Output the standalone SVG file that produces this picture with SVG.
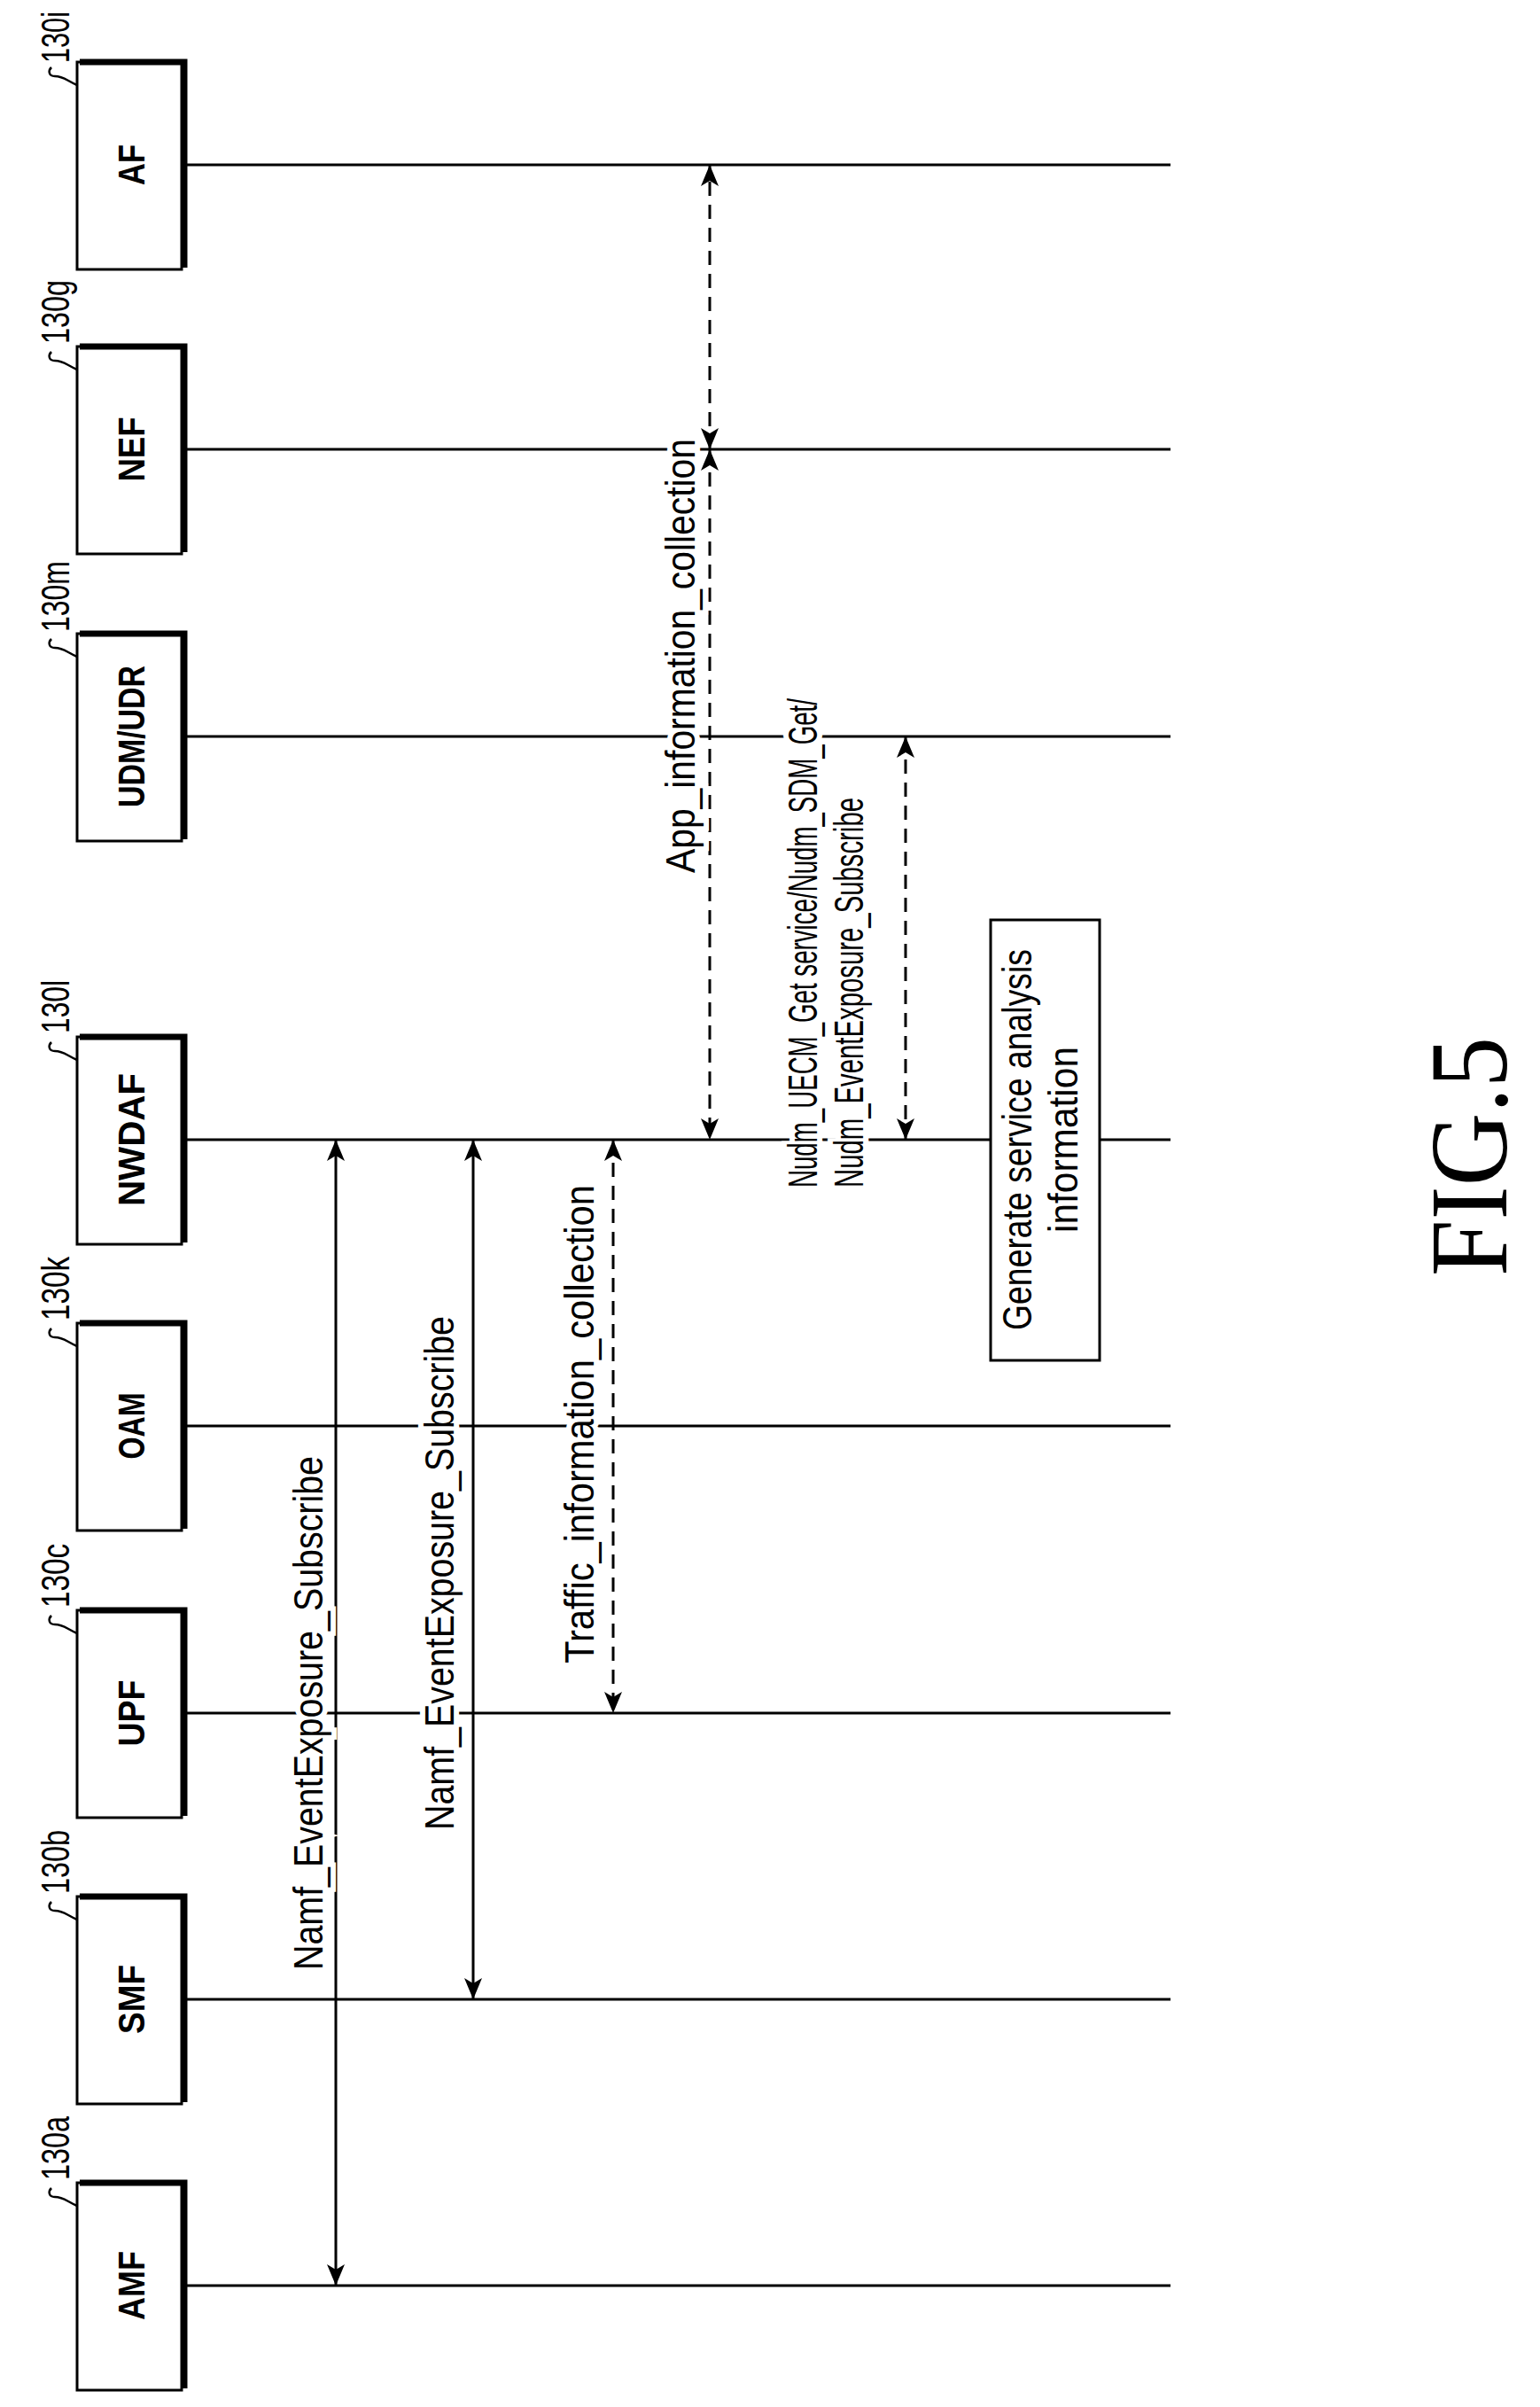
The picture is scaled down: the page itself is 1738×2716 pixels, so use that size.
<svg xmlns="http://www.w3.org/2000/svg" width="1738" height="2716" viewBox="0 0 1738 2716">
<style>
.life{stroke:#000;stroke-width:3;fill:none}
.box{fill:#fff;stroke:#000;stroke-width:3}
.shadow{stroke:#000;stroke-width:7;fill:none}
.nm{font-family:"Liberation Sans",Arial,sans-serif;font-weight:bold;font-size:42px;text-anchor:middle}
.ref{font-family:"Liberation Sans",Arial,sans-serif;font-size:44px;text-anchor:middle}
.gen{font-family:"Liberation Sans",Arial,sans-serif;font-size:46px;text-anchor:middle}
.lbl{font-family:"Liberation Sans",Arial,sans-serif;font-size:46px;stroke:#fff;stroke-width:12px;paint-order:stroke;fill:#000}
.sol{stroke:#000;stroke-width:3;fill:none;marker-start:url(#ah);marker-end:url(#ah)}
.dash{stroke:#000;stroke-width:3;fill:none;stroke-dasharray:16 10;marker-start:url(#ah);marker-end:url(#ah)}
.sq{stroke:#000;stroke-width:2.5;fill:none}
</style>
<defs>
<marker id="ah" viewBox="0 0 24 20" refX="24" refY="10" markerWidth="24" markerHeight="20" markerUnits="userSpaceOnUse" orient="auto-start-reverse">
<path d="M0,0 L24,10 L0,20 L6,10 Z" fill="#000"/>
</marker>
</defs>
<rect width="1738" height="2716" fill="#fff"/>
<g id="lifelines">
<line class="life" x1="209" y1="186" x2="1321" y2="186"/>
<line class="life" x1="209" y1="507" x2="1321" y2="507"/>
<line class="life" x1="209" y1="831" x2="1321" y2="831"/>
<line class="life" x1="209" y1="1286" x2="1321" y2="1286"/>
<line class="life" x1="209" y1="1609" x2="1321" y2="1609"/>
<line class="life" x1="209" y1="1933" x2="1321" y2="1933"/>
<line class="life" x1="209" y1="2256" x2="1321" y2="2256"/>
<line class="life" x1="209" y1="2579" x2="1321" y2="2579"/>
</g>
<g id="node-af" transform="translate(0,186)">
<rect class="box" x="87" y="-116" width="118" height="234"/><path class="shadow" d="M90,-116 H208 V116"/>
<text class="nm" transform="translate(163,0) rotate(-90)" textLength="46" lengthAdjust="spacingAndGlyphs">AF</text>
<path class="sq" d="M87,-90 C75,-95 72,-100 62,-100 C55,-100 54,-106 58,-110"/>
<text class="ref" transform="translate(78,-144) rotate(-90)" textLength="58" lengthAdjust="spacingAndGlyphs">130i</text>
</g>
<g id="node-nef" transform="translate(0,507)">
<rect class="box" x="87" y="-116" width="118" height="234"/><path class="shadow" d="M90,-116 H208 V116"/>
<text class="nm" transform="translate(163,0) rotate(-90)" textLength="73" lengthAdjust="spacingAndGlyphs">NEF</text>
<path class="sq" d="M87,-90 C75,-95 72,-100 62,-100 C55,-100 54,-106 58,-110"/>
<text class="ref" transform="translate(78,-155) rotate(-90)" textLength="72" lengthAdjust="spacingAndGlyphs">130g</text>
</g>
<g id="node-udm" transform="translate(0,831)">
<rect class="box" x="87" y="-116" width="118" height="234"/><path class="shadow" d="M90,-116 H208 V116"/>
<text class="nm" transform="translate(163,0) rotate(-90)" textLength="160" lengthAdjust="spacingAndGlyphs">UDM/UDR</text>
<path class="sq" d="M87,-90 C75,-95 72,-100 62,-100 C55,-100 54,-106 58,-110"/>
<text class="ref" transform="translate(78,-158) rotate(-90)" textLength="80" lengthAdjust="spacingAndGlyphs">130m</text>
</g>
<g id="node-nwdaf" transform="translate(0,1286)">
<rect class="box" x="87" y="-116" width="118" height="234"/><path class="shadow" d="M90,-116 H208 V116"/>
<text class="nm" transform="translate(163,0) rotate(-90)" textLength="150" lengthAdjust="spacingAndGlyphs">NWDAF</text>
<path class="sq" d="M87,-90 C75,-95 72,-100 62,-100 C55,-100 54,-106 58,-110"/>
<text class="ref" transform="translate(78,-150) rotate(-90)" textLength="60" lengthAdjust="spacingAndGlyphs">130l</text>
</g>
<g id="node-oam" transform="translate(0,1609)">
<rect class="box" x="87" y="-116" width="118" height="234"/><path class="shadow" d="M90,-116 H208 V116"/>
<text class="nm" transform="translate(163,0) rotate(-90)" textLength="75" lengthAdjust="spacingAndGlyphs">OAM</text>
<path class="sq" d="M87,-90 C75,-95 72,-100 62,-100 C55,-100 54,-106 58,-110"/>
<text class="ref" transform="translate(78,-155) rotate(-90)" textLength="72" lengthAdjust="spacingAndGlyphs">130k</text>
</g>
<g id="node-upf" transform="translate(0,1933)">
<rect class="box" x="87" y="-116" width="118" height="234"/><path class="shadow" d="M90,-116 H208 V116"/>
<text class="nm" transform="translate(163,0) rotate(-90)" textLength="75" lengthAdjust="spacingAndGlyphs">UPF</text>
<path class="sq" d="M87,-90 C75,-95 72,-100 62,-100 C55,-100 54,-106 58,-110"/>
<text class="ref" transform="translate(78,-155) rotate(-90)" textLength="72" lengthAdjust="spacingAndGlyphs">130c</text>
</g>
<g id="node-smf" transform="translate(0,2256)">
<rect class="box" x="87" y="-116" width="118" height="234"/><path class="shadow" d="M90,-116 H208 V116"/>
<text class="nm" transform="translate(163,0) rotate(-90)" textLength="78" lengthAdjust="spacingAndGlyphs">SMF</text>
<path class="sq" d="M87,-90 C75,-95 72,-100 62,-100 C55,-100 54,-106 58,-110"/>
<text class="ref" transform="translate(78,-155) rotate(-90)" textLength="72" lengthAdjust="spacingAndGlyphs">130b</text>
</g>
<g id="node-amf" transform="translate(0,2579)">
<rect class="box" x="87" y="-116" width="118" height="234"/><path class="shadow" d="M90,-116 H208 V116"/>
<text class="nm" transform="translate(163,0) rotate(-90)" textLength="78" lengthAdjust="spacingAndGlyphs">AMF</text>
<path class="sq" d="M87,-90 C75,-95 72,-100 62,-100 C55,-100 54,-106 58,-110"/>
<text class="ref" transform="translate(78,-155) rotate(-90)" textLength="72" lengthAdjust="spacingAndGlyphs">130a</text>
</g>
<g id="node-generate">
<rect class="box" x="1118" y="1038" width="123" height="497"/>
<text class="gen" transform="translate(1164,1286) rotate(-90)" textLength="430" lengthAdjust="spacingAndGlyphs">Generate service analysis</text>
<text class="gen" transform="translate(1216,1286) rotate(-90)" textLength="210" lengthAdjust="spacingAndGlyphs">information</text>
</g>
<g id="connectors">
<line class="dash" x1="801" y1="507" x2="801" y2="186"/>
<line class="dash" x1="801" y1="507" x2="801" y2="1286"/>
<line class="dash" x1="1022" y1="831" x2="1022" y2="1286"/>
<line class="dash" x1="692" y1="1286" x2="692" y2="1933"/>
<line class="sol" x1="379" y1="1286" x2="379" y2="2579"/>
<line class="sol" x1="534" y1="1286" x2="534" y2="2256"/>
</g>
<g id="labels">
<text class="lbl" text-anchor="middle" transform="translate(784,740) rotate(-90)" textLength="490" lengthAdjust="spacingAndGlyphs">App_information_collection</text>
<text class="lbl" text-anchor="start" transform="translate(922,1340) rotate(-90)" textLength="552" lengthAdjust="spacingAndGlyphs">Nudm_UECM_Get service/Nudm_SDM_Get/</text>
<text class="lbl" text-anchor="start" transform="translate(974,1340) rotate(-90)" textLength="440" lengthAdjust="spacingAndGlyphs">Nudm_EventExposure_Subscribe</text>
<text class="lbl" text-anchor="middle" transform="translate(670,1607) rotate(-90)" textLength="540" lengthAdjust="spacingAndGlyphs">Traffic_information_collection</text>
<text class="lbl" text-anchor="middle" transform="translate(364,1933) rotate(-90)" textLength="580" lengthAdjust="spacingAndGlyphs">Namf_EventExposure_Subscribe</text>
<text class="lbl" text-anchor="middle" transform="translate(512,1775) rotate(-90)" textLength="580" lengthAdjust="spacingAndGlyphs">Namf_EventExposure_Subscribe</text>
</g>
<text font-family="'Liberation Serif','Times New Roman',serif" font-size="125" text-anchor="middle" transform="translate(1700,1305) rotate(-90)" textLength="270" lengthAdjust="spacingAndGlyphs">FIG.5</text>
</svg>
